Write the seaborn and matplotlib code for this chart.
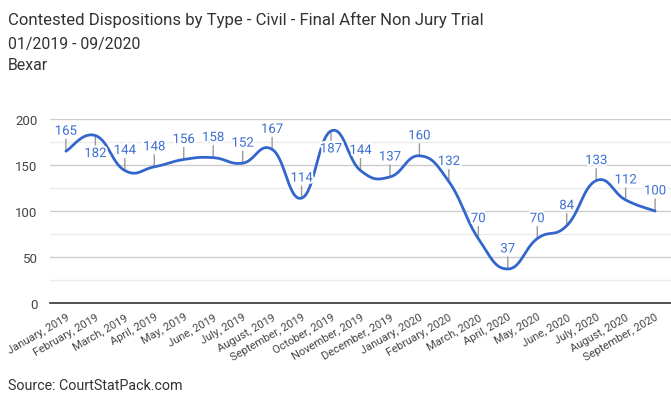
import numpy as np
import pandas as pd
import matplotlib
matplotlib.use("Agg")
import matplotlib.pyplot as plt
import matplotlib.patheffects as pe
import seaborn as sns

# Data
months = ["January, 2019", "February, 2019", "March, 2019", "April, 2019", "May, 2019",
          "June, 2019", "July, 2019", "August, 2019", "September, 2019", "October, 2019",
          "November, 2019", "December, 2019", "January, 2020", "February, 2020",
          "March, 2020", "April, 2020", "May, 2020", "June, 2020", "July, 2020",
          "August, 2020", "September, 2020"]
counts = [165, 182, 144, 148, 156, 158, 152, 167, 114, 187, 144, 137,
          160, 132, 70, 37, 70, 84, 133, 112, 100]
labels_below = ["February, 2019", "October, 2019"]

LINE = "#3366cc"


def smooth(y, k=0.22, n=30):
    # cubic bezier through the points (like a "function" curve)
    y = np.asarray(y, dtype=float)
    x = np.arange(len(y), dtype=float)
    xs, ys = [], []
    for i in range(len(y) - 1):
        p0 = np.array([x[i], y[i]])
        p3 = np.array([x[i + 1], y[i + 1]])
        prev = np.array([x[i - 1], y[i - 1]]) if i > 0 else p0
        nxt = np.array([x[i + 2], y[i + 2]]) if i + 2 < len(y) else p3
        p1 = p0 + (p3 - prev) * k
        p2 = p3 - (nxt - p0) * k
        t = np.linspace(0, 1, n, endpoint=(i == len(y) - 2))[:, None]
        pts = ((1 - t) ** 3) * p0 + 3 * ((1 - t) ** 2) * t * p1 + 3 * (1 - t) * t ** 2 * p2 + t ** 3 * p3
        xs.extend(pts[:, 0])
        ys.extend(pts[:, 1])
    return np.array(xs), np.array(ys)


sns.set_style("white")
plt.rcParams["font.family"] = ["Roboto", "DejaVu Sans"]

fig = plt.figure(figsize=(6.71, 4.06), dpi=100)
ax = fig.add_axes([50 / 671, 102 / 406, 621 / 671, 184 / 406])

sx, sy = smooth(counts)
curve = pd.DataFrame({"x": sx, "y": sy})
sns.lineplot(data=curve, x="x", y="y", ax=ax, color=LINE, linewidth=2, sort=False, zorder=3)

ax.set_xlim(-0.54, len(counts) - 1 + 0.54)
ax.set_ylim(0, 200)
ax.set_yticks([0, 50, 100, 150, 200])
ax.set_yticks([25, 75, 125, 175], minor=True)
ax.grid(axis="y", which="major", color="#cccccc", linewidth=1)
ax.grid(axis="y", which="minor", color="#ebebeb", linewidth=1)
ax.set_axisbelow(True)
for s in ["top", "right", "left"]:
    ax.spines[s].set_visible(False)
ax.spines["bottom"].set_color("#333333")
ax.spines["bottom"].set_linewidth(1.2)
ax.spines["bottom"].set_zorder(4)

ax.set_xticks(range(len(months)))
ax.set_xticklabels(months, rotation=30, ha="right", rotation_mode="anchor",
                   fontsize=8, color="#444444")
ax.tick_params(axis="x", length=0, pad=6)
ax.tick_params(axis="y", which="both", length=0, labelsize=9.5, labelcolor="#444444", pad=9)
ax.set_xlabel("")
ax.set_ylabel("")

# annotations with small stems
for i, (m, v) in enumerate(zip(months, counts)):
    d = -1 if m in labels_below else 1
    ax.annotate("", xy=(i, v), xytext=(0, 12 * d), textcoords="offset pixels",
                arrowprops=dict(arrowstyle="-", color="#999999", lw=1,
                                shrinkA=0, shrinkB=0), zorder=2)
    ax.annotate(str(v), xy=(i, v), xytext=(0, 20 * d if d > 0 else -18),
                textcoords="offset pixels", ha="center", va="center",
                fontsize=9.5, color="#3d6fd1", zorder=5,
                path_effects=[pe.withStroke(linewidth=3, foreground="white")])

fig.text(8 / 671, 1 - 20 / 406, "Contested Dispositions by Type - Civil - Final After Non Jury Trial",
         fontsize=12.1, color="#333333", va="center", ha="left")
fig.text(8 / 671, 1 - 45 / 406, "01/2019 - 09/2020", fontsize=11.4, color="#333333",
         va="center", ha="left")
fig.text(8 / 671, 1 - 66 / 406, "Bexar", fontsize=11.4, color="#333333",
         va="center", ha="left")
fig.text(8 / 671, 1 - 386 / 406, "Source: CourtStatPack.com", fontsize=10.3, color="#333333",
         va="center", ha="left")

fig.savefig("out.png", dpi=100)
